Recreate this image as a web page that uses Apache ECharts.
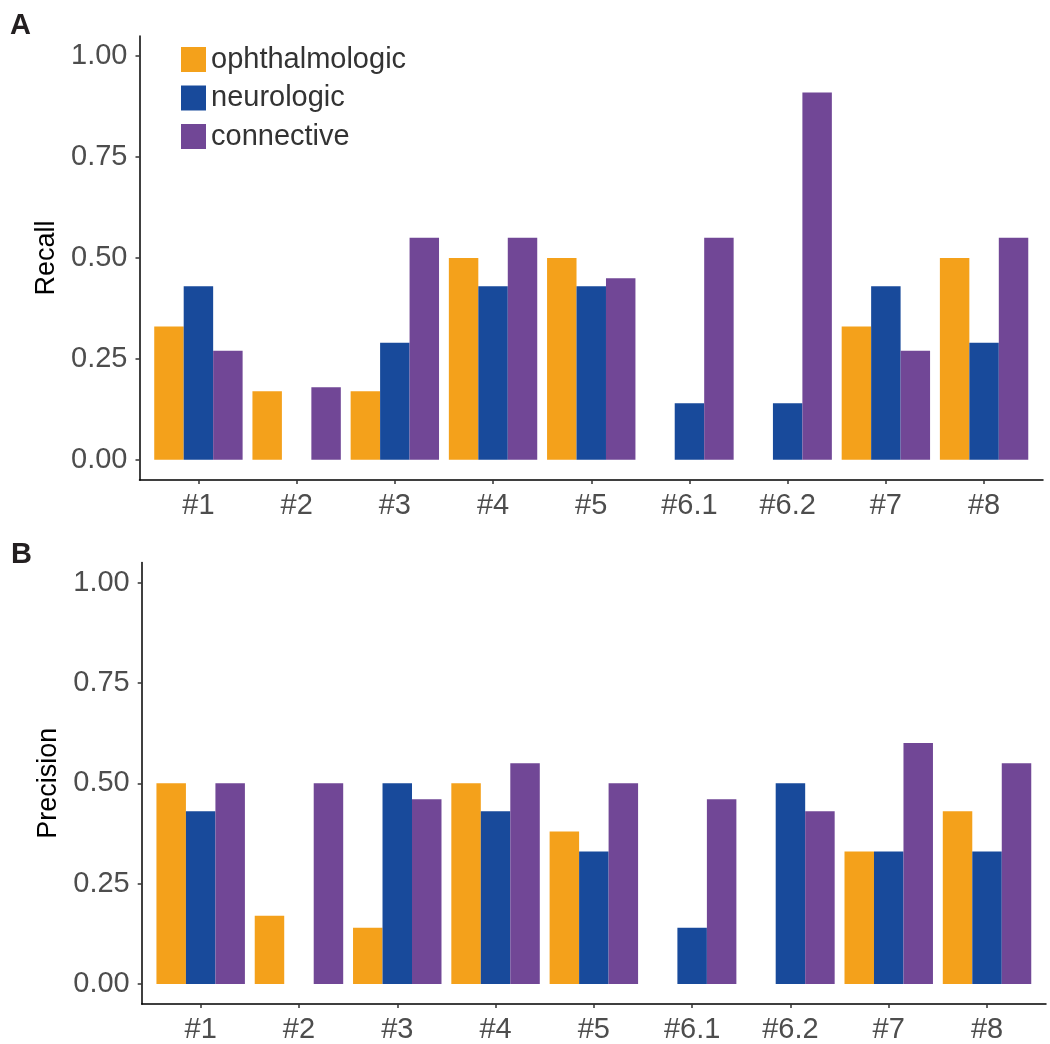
<!DOCTYPE html>
<html>
<head>
<meta charset="utf-8">
<script src="https://cdn.jsdelivr.net/npm/echarts@6/dist/echarts.min.js"></script>
<style>html,body{margin:0;padding:0;background:#fff}#c{width:1050px;height:1044px}</style>
</head>
<body>
<div id="c"></div>
<script>
const categories = ['#1', '#2', '#3', '#4', '#5', '#6.1', '#6.2', '#7', '#8'];
const seriesNames = ['ophthalmologic', 'neurologic', 'connective'];
const recallOphthalmologic = [0.33, 0.17, 0.17, 0.50, 0.50, 0, 0, 0.33, 0.50];
const recallNeurologic     = [0.43, 0,    0.29, 0.43, 0.43, 0.14, 0.14, 0.43, 0.29];
const recallConnective     = [0.27, 0.18, 0.55, 0.55, 0.45, 0.55, 0.91, 0.27, 0.55];
const precisionOphthalmologic = [0.50, 0.17, 0.14, 0.50, 0.38, 0, 0, 0.33, 0.43];
const precisionNeurologic     = [0.43, 0,    0.50, 0.43, 0.33, 0.14, 0.50, 0.33, 0.33];
const precisionConnective     = [0.50, 0.50, 0.46, 0.55, 0.50, 0.46, 0.43, 0.60, 0.55];
const yTicks = [0, 0.25, 0.5, 0.75, 1.0];
const colors = ['#F4A11B', '#184A9B', '#714796'];

const chart = echarts.init(document.getElementById('c'), null, {renderer: 'canvas'});
const idx = categories.map((_, i) => i);
const font = 'Liberation Sans, Arial, Helvetica, sans-serif';

function xAxisCfg(gridIndex) {
  return {
    type: 'value', gridIndex, min: -0.6, max: 8.6,
    axisLine: {show: true, onZero: false, lineStyle: {color: '#000', width: 1.5}},
    axisTick: {show: true, customValues: idx, length: 4, lineStyle: {color: '#333', width: 1.5}},
    axisLabel: {show: true, customValues: idx, formatter: v => categories[Math.round(v)],
      color: '#4D4D4D', fontSize: 29, fontFamily: font, margin: 11},
    splitLine: {show: false}
  };
}
function yAxisCfg(gridIndex, name) {
  return {
    type: 'value', gridIndex, min: -0.05, max: 1.05,
    name, nameLocation: 'middle', nameGap: 78, nameRotate: 90,
    nameTextStyle: {color: '#000', fontSize: 27, fontFamily: font},
    axisLine: {show: true, onZero: false, lineStyle: {color: '#000', width: 1.5}},
    axisTick: {show: true, customValues: yTicks, length: 4, lineStyle: {color: '#333', width: 1.5}},
    axisLabel: {show: true, customValues: yTicks, formatter: v => v.toFixed(2),
      color: '#4D4D4D', fontSize: 29, fontFamily: font, margin: 12},
    splitLine: {show: false}
  };
}
function bars(data, k, gridIndex) {
  return {
    type: 'bar', name: seriesNames[k], xAxisIndex: gridIndex, yAxisIndex: gridIndex,
    data: data.map((v, i) => [i, v]),
    itemStyle: {color: colors[k]},
    barGap: '0%', barCategoryGap: '10%',
    emphasis: {disabled: true}, animation: false
  };
}

chart.setOption({
  animation: false,
  title: [
    {text: 'A', left: 5, top: 6, textStyle: {fontSize: 29, fontWeight: 'bold', color: '#231F20', fontFamily: font}},
    {text: 'B', left: 6, top: 535, textStyle: {fontSize: 29, fontWeight: 'bold', color: '#231F20', fontFamily: font}}
  ],
  legend: {
    data: seriesNames, orient: 'vertical', left: 176, top: 40,
    itemWidth: 25, itemHeight: 25, itemGap: 9.5, icon: 'rect',
    textStyle: {fontSize: 29, color: '#333', fontFamily: font, lineHeight: 28},
    selectedMode: false
  },
  grid: [
    {left: 139.5, top: 36, width: 903.5, height: 444},
    {left: 141.7, top: 562.5, width: 904.3, height: 443.5}
  ],
  xAxis: [xAxisCfg(0), xAxisCfg(1)],
  yAxis: [yAxisCfg(0, 'Recall'), yAxisCfg(1, 'Precision')],
  series: [
    bars(recallOphthalmologic, 0, 0),
    bars(recallNeurologic, 1, 0),
    bars(recallConnective, 2, 0),
    bars(precisionOphthalmologic, 0, 1),
    bars(precisionNeurologic, 1, 1),
    bars(precisionConnective, 2, 1)
  ]
});
</script>
</body>
</html>
